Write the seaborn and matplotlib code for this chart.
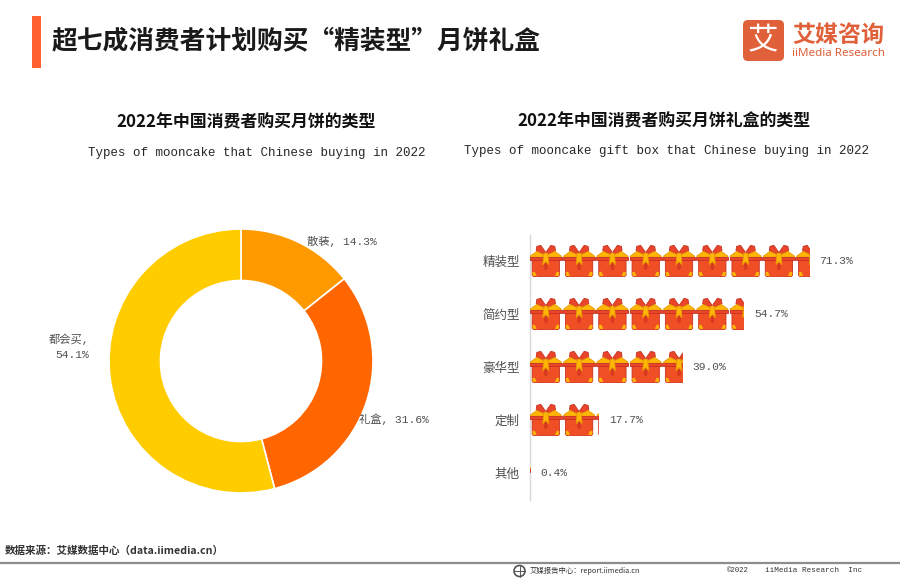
import math
import matplotlib
matplotlib.use("Agg")
import matplotlib.pyplot as plt
from matplotlib.patches import Polygon, Rectangle, Circle, FancyBboxPatch
import pandas as pd
import seaborn as sns

# ---- data ----
donut_labels = ["散装", "礼盒", "都会买"]
donut_values = [14.3, 31.6, 54.1]
donut_colors = ["#FF9900", "#FF6600", "#FFCC00"]
box_types = ["精装型", "简约型", "豪华型", "定制", "其他"]
box_values = [71.3, 54.7, 39.0, 17.7, 0.4]

sns.set_theme(style="white")
CJK = ["Noto Sans CJK SC", "DejaVu Sans"]
MIX = ["Liberation Mono", "Noto Sans CJK SC"]
plt.rcParams["font.family"] = CJK

W, H = 900, 582
fig = plt.figure(figsize=(W / 100, H / 100), dpi=100, facecolor="white")


def px_axes(x0, y0, x1, y1, **kw):
    return fig.add_axes([x0 / W, 1 - y1 / H, (x1 - x0) / W, (y1 - y0) / H], **kw)


# ---- donut ----
axd = px_axes(109, 229, 373, 493)
axd.pie(donut_values, colors=donut_colors, startangle=90, counterclock=False, radius=1,
        wedgeprops=dict(width=0.39, edgecolor="white", linewidth=1.2))
axd.set_xlim(-1, 1)
axd.set_ylim(-1, 1)
for w in axd.patches:
    w.set_clip_on(False)

# ---- pictorial bars ----
axb = px_axes(529.5, 235, 860, 500)
df = pd.DataFrame({"type": box_types, "value": box_values})
sns.barplot(data=df, x="value", y="type", ax=axb, width=0.6, color="white",
            saturation=1, linewidth=0)
axb.set_xlim(0, 330.5 / 3.93)
axb.set_ylim(4.51, -0.49)
axb.set_xlabel("")
axb.set_ylabel("")
axb.set_xticks([])
sns.despine(ax=axb, bottom=True, top=True, right=True)
axb.spines["left"].set_color("#D9D9D9")
axb.spines["left"].set_linewidth(1)
axb.tick_params(axis="y", length=0, pad=7)
for lab in axb.get_yticklabels():
    lab.set_fontsize(9)
    lab.set_color("#505050")
    lab.set_family(CJK)

PERIOD = 33.3 / 3.93  # data units per icon

RED = "#F04E25"
DARK = "#C8301F"
YEL = "#FFB606"
SHAPES = [
    # (polygon in icon units, face, edge)
    ([(0.08, 0.42), (0.90, 0.42), (0.90, 0.95), (0.85, 1.0), (0.13, 1.0), (0.08, 0.95)], RED, DARK),
    ([(0.10, 0.86), (0.15, 0.85), (0.20, 0.96), (0.11, 0.96)], YEL, None),
    ([(0.88, 0.86), (0.83, 0.85), (0.78, 0.96), (0.87, 0.96)], YEL, None),
    ([(0.46, 0.50), (0.52, 0.50), (0.53, 0.74), (0.49, 0.78), (0.45, 0.74)], "#D63A20", None),
    ([(0.48, 0.22), (0.34, 0.01), (0.22, 0.04), (0.20, 0.18), (0.42, 0.30)], "#E8452A", DARK),
    ([(0.50, 0.22), (0.64, 0.01), (0.76, 0.04), (0.78, 0.18), (0.56, 0.30)], "#E8452A", DARK),
    ([(0.02, 0.35), (0.22, 0.20), (0.44, 0.31), (0.42, 0.38), (0.04, 0.38)], YEL, "#E89A00"),
    ([(0.96, 0.35), (0.76, 0.20), (0.54, 0.31), (0.56, 0.38), (0.94, 0.38)], YEL, "#E89A00"),
    ([(0.01, 0.37), (0.97, 0.37), (0.97, 0.46), (0.01, 0.46)], "#E8452A", DARK),
    ([(0.43, 0.26), (0.55, 0.26), (0.58, 0.62), (0.49, 0.52), (0.40, 0.62)], YEL, "#E89A00"),
]

for bar in axb.patches:
    x0, y0, bw, bh = bar.get_x(), bar.get_y(), bar.get_width(), bar.get_height()
    if bw <= 0:
        continue
    clip = Rectangle((x0, y0), bw, bh, transform=axb.transData)
    for k in range(math.ceil(bw / PERIOD)):
        for pts, face, edge in SHAPES:
            xy = [(x0 + (k + u) * PERIOD, y0 + v * bh) for u, v in pts]
            p = Polygon(xy, closed=True, facecolor=face, edgecolor=edge or face,
                        linewidth=0.6, zorder=3)
            axb.add_patch(p)
            p.set_clip_path(clip)

axb.bar_label(axb.containers[0], labels=[f"{v:.1f}%" for v in box_values], padding=7,
              fontsize=8.1, color="#505050", family=MIX)

# ---- page furniture, in pixel coordinates ----
ov = px_axes(0, 0, W, H)
ov.set_xlim(0, W)
ov.set_ylim(H, 0)
ov.axis("off")
ov.patch.set_alpha(0)

ov.add_patch(Rectangle((32, 16), 9, 52, facecolor="#FF5E2F", edgecolor="none"))
ov.text(52, 41, "超七成消费者计划购买“精装型”月饼礼盒", fontsize=18.5, fontweight="bold",
        color="#1A1A1A", va="center", ha="left")

# logo
ORANGE = "#E0603A"
ov.add_patch(FancyBboxPatch((746, 23), 35, 35, boxstyle="round,pad=3,rounding_size=5",
                            facecolor=ORANGE, edgecolor="none"))
ov.text(763, 41, "艾", fontsize=22, fontweight="medium", color="white", ha="center", va="center")
ov.text(838.5, 35, "艾媒咨询", fontsize=16.6, fontweight="bold", color=ORANGE, ha="center", va="center")
ov.text(838.5, 54, "iiMedia Research", fontsize=8.4, color=ORANGE, ha="center", va="center",
        family=["Noto Sans", "DejaVu Sans"])

# chart titles
ov.text(246, 122, "2022年中国消费者购买月饼的类型", fontsize=12.2, fontweight="bold",
        color="#111111", ha="center", va="center")
ov.text(664, 121, "2022年中国消费者购买月饼礼盒的类型", fontsize=12.2, fontweight="bold",
        color="#111111", ha="center", va="center")
ov.text(256.5, 153, "Types of mooncake that Chinese buying in 2022", fontsize=9.0,
        color="#262626", ha="center", va="center", family=MIX)
ov.text(667, 151, "Types of mooncake gift box that Chinese buying in 2022", fontsize=9.0,
        color="#262626", ha="center", va="center", family=MIX)

# donut labels
lab = dict(fontsize=8.1, color="#505050", family=MIX, va="center")
ov.text(307, 241, f"{donut_labels[0]}, {donut_values[0]:.1f}%", ha="left", **lab)
ov.text(359, 419, f"{donut_labels[1]}, {donut_values[1]:.1f}%", ha="left", **lab)
ov.text(49, 339, f"{donut_labels[2]},", ha="left", **lab)
ov.text(55, 355, f"{donut_values[2]:.1f}%", ha="left", **lab)

# footer
ov.text(5, 551, "数据来源：艾媒数据中心（data.iimedia.cn）", fontsize=7.6, fontweight="bold",
        color="#333333", ha="left", va="center")
ov.plot([0, W], [562.5, 562.5], color="#8C8C8C", lw=1.6, solid_capstyle="butt")
ov.add_patch(Circle((519.5, 571), 5.5, facecolor="none", edgecolor="#555555", lw=1.2))
ov.plot([514, 525], [571, 571], color="#555555", lw=0.7)
ov.plot([519.5, 519.5], [565.5, 576.5], color="#555555", lw=0.7)
ov.text(530, 570.5, "艾媒报告中心：report.iimedia.cn", fontsize=5.3, color="#333333",
        ha="left", va="center", fontweight="medium")
ov.text(727, 570.5, "©2022", fontsize=5.3, color="#333333", ha="left", va="center", family=MIX)
ov.text(765, 570.5, "iiMedia Research  Inc", fontsize=5.5, color="#333333", ha="left",
        va="center", family=MIX)

fig.savefig("out.png", dpi=100, facecolor="white")
